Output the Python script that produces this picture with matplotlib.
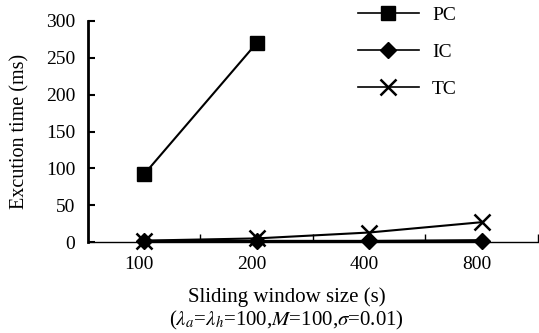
import numpy as np
import matplotlib
matplotlib.use('Agg')
import matplotlib.pyplot as plt
import matplotlib.transforms as mtrans

plt.rcParams['font.family'] = ['Liberation Serif', 'DejaVu Serif']
plt.rcParams['mathtext.fontset'] = 'stix'

# ===== data =====
window_sizes = ['100', '200', '400', '800']
pc_time = [92, 270]
ic_time = [1, 1, 1, 2]
tc_time = [2, 5, 13, 27]

pos = np.arange(len(window_sizes)) + 0.5

fig = plt.figure(figsize=(5.39, 3.33), dpi=100)
ax = fig.add_axes([0.163, 0.273, 0.835, 0.664])

ax.plot(pos[:len(pc_time)], pc_time, 'k-', marker='s', markersize=10, lw=1.5, label='PC', clip_on=False)
ax.plot(pos, ic_time, 'k-', marker='D', markersize=8, lw=2.2, label='IC', clip_on=False)
ax.plot(pos, tc_time, 'k-', marker='x', markersize=11, mew=1.8, lw=1.5, label='TC', clip_on=False)

ax.set_xlim(0, 4)
ax.set_ylim(0, 300)
ax.set_yticks([0, 50, 100, 150, 200, 250, 300])
ax.set_xticks(pos)
ax.set_xticklabels(window_sizes)
ax.set_xticks([1, 2, 3, 4], minor=True)
ax.tick_params(axis='x', which='major', length=0, labelsize=14, pad=10)
ax.tick_params(axis='x', which='minor', direction='in', length=6, width=1)
ax.tick_params(axis='y', direction='in', length=5, width=1.5, labelsize=14, pad=9)

# labels sit a bit left of the markers in the original
shift = mtrans.ScaledTranslation(-5 / 100, 0, fig.dpi_scale_trans)
for lbl in ax.get_xticklabels():
    lbl.set_transform(lbl.get_transform() + shift)

for s in ['top', 'right']:
    ax.spines[s].set_visible(False)
ax.spines['left'].set_linewidth(2)
ax.spines['bottom'].set_linewidth(1)

ax.set_ylabel('Excution time (ms)', fontsize=14.5, labelpad=12)
fig.text(0.532, 0.108, 'Sliding window size (s)', fontsize=15, ha='center', va='center')
fig.text(0.532, 0.038, r'($\lambda_a$=$\lambda_h$=100,$M$=100,$\sigma$=0.01)', fontsize=15,
         ha='center', va='center')

leg = ax.legend(loc='upper left', bbox_to_anchor=(0.562, 1.145), frameon=False, fontsize=14,
                handlelength=3.1, labelspacing=1.0, handletextpad=0.7)
for ln in leg.get_lines():
    ln.set_linewidth(1.2)

plt.savefig('out.png', dpi=100)
